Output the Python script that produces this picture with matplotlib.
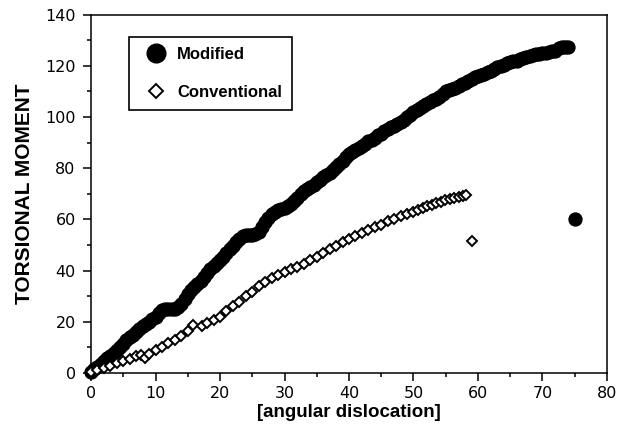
import matplotlib
matplotlib.use("Agg")
import matplotlib.pyplot as plt
from matplotlib.ticker import MultipleLocator

# Modified series
mod_x = [0, 0.5, 1, 1.5, 2, 2.5, 3, 3.5, 4, 4.5, 5, 5.5, 6, 6.5, 7, 7.5, 8, 8.5, 9, 9.5,
         10, 10.5, 11, 11.5, 12, 12.5, 13, 13.5, 14, 14.5, 15, 15.5, 16, 16.5, 17, 17.5,
         18, 18.5, 19, 19.5, 20, 20.5, 21, 21.5, 22, 22.5, 23, 23.5, 24, 24.5, 25, 25.5,
         26, 26.5, 27, 27.5, 28, 28.5, 29, 29.5, 30, 30.5, 31, 31.5, 32, 32.5, 33, 33.5,
         34, 34.5, 35, 35.5, 36, 36.5, 37, 37.5, 38, 38.5, 39, 39.5, 40, 40.5, 41, 41.5,
         42, 42.5, 43, 43.5, 44, 44.5, 45, 45.5, 46, 46.5, 47, 47.5, 48, 48.5, 49, 49.5,
         50, 50.5, 51, 51.5, 52, 52.5, 53, 53.5, 54, 54.5, 55, 55.5, 56, 56.5, 57, 57.5,
         58, 58.5, 59, 59.5, 60, 60.5, 61, 61.5, 62, 62.5, 63, 63.5, 64, 64.5, 65, 65.5,
         66, 66.5, 67, 67.5, 68, 68.5, 69, 69.5, 70, 70.5, 71, 71.5, 72, 72.5, 73, 73.5,
         74, 75]
mod_y = [0.5, 1.5, 2.5, 3.5, 4.5, 5.7, 6.8, 7.9, 9, 10.2, 11.5, 12.8, 14, 15, 16, 17.3, 18.5, 19.3, 20, 21,
         22, 23.3, 24.5, 25, 25, 25, 25, 25.8, 27, 29, 31, 32.3, 33.5, 34.8, 36, 37.5,
         39, 40.5, 42, 43, 44, 45.5, 47, 48.3, 49.5, 51, 52.5, 53.5, 54, 54, 54, 54.3,
         55, 57, 59, 60.5, 62, 63, 63.5, 64, 64.5, 65.2, 66, 67.3, 68.5, 69.8, 71, 71.8,
         72.5, 73.5, 74.5, 75.5, 76.5, 77.2, 78, 79.3, 80.5, 81.8, 83, 84.3, 85.5, 86.2, 87, 87.8,
         88.5, 89.5, 90.5, 91.2, 92, 92.8, 93.5, 94.5, 95.5, 96, 96.5, 97.2, 98, 99, 100, 101,
         102, 102.8, 103.5, 104.2, 105, 105.8, 106.5, 107.2, 108, 109, 110, 110.5, 111, 111.5, 112, 112.8,
         113.5, 114.2, 115, 115.5, 116, 116.5, 117, 117.5, 118, 118.8, 119.5, 120, 120.5, 121, 121.5, 121.8,
         122, 122.5, 123, 123.5, 124, 124.2, 124.5, 124.8, 125, 125.2, 125.5, 125.8, 126, 126.8, 127.5, 127.5,
         127.5, 60]

# Conventional series
conv_x = [0, 1, 2, 3, 4, 5, 6, 7, 7.7, 8.3, 9, 10, 11, 12, 13, 14, 15, 15.8, 17.2, 18,
          19, 20, 21, 22, 23, 24, 25, 26, 27, 28, 29, 30, 31, 32, 33, 34, 35, 36, 37, 38,
          39, 40, 41, 42, 43, 44, 45, 46, 47, 48, 49, 50, 50.7, 51.4, 52.1, 52.8, 53.5, 54.2,
          54.9, 55.6, 56.3, 57, 57.7, 58.2, 59]
conv_y = [0.5, 1.2, 1.8, 2.8, 3.8, 4.6, 5.5, 6.5, 7.2, 5.8, 7.6, 9, 10.3, 11.6, 13, 14.6, 16.5, 18.7, 18.5, 19.5,
          20.6, 22, 24.2, 26, 27.8, 30, 31.8, 33.8, 35.6, 37.2, 38.3, 39.3, 40.5, 41.3, 42.5, 44, 45.5, 47, 48.5, 49.6,
          51, 52.2, 53.4, 54.6, 55.8, 57, 58, 59.2, 60.2, 61.2, 62.2, 63.1, 63.8, 64.5, 65.1, 65.7, 66.3, 66.9,
          67.4, 67.9, 68.4, 68.8, 69.2, 69.4, 51.7]

label_font = "Liberation Sans"

fig = plt.figure(figsize=(6.29, 4.40), dpi=100)
ax = fig.add_axes([0.1447, 0.1523, 0.8203, 0.8143])

ax.plot(mod_x, mod_y, linestyle="none", marker="o", ms=9.3, color="black",
        label="Modified", clip_on=False, zorder=3)
ax.plot(conv_x, conv_y, linestyle="none", marker="D", ms=5, mfc="white", mec="black",
        mew=1.4, label="Conventional", clip_on=False, zorder=4)

ax.set_xlim(0, 80)
ax.set_ylim(0, 140)
ax.xaxis.set_major_locator(MultipleLocator(10))
ax.xaxis.set_minor_locator(MultipleLocator(5))
ax.yaxis.set_major_locator(MultipleLocator(20))
ax.yaxis.set_minor_locator(MultipleLocator(10))
ax.tick_params(which="both", direction="out", width=1.1, top=False, right=False,
               labelsize=11.5)
ax.tick_params(which="major", length=5.5)
ax.tick_params(which="minor", length=3)
ax.tick_params(axis="y", which="major", pad=5.5)
ax.tick_params(axis="x", which="major", pad=4)
for sp in ax.spines.values():
    sp.set_linewidth(1.1)

ax.set_xlabel("[angular dislocation]", family=label_font, weight="bold", fontsize=13.5)
ax.set_ylabel("TORSIONAL MOMENT", family=label_font, weight="bold", fontsize=15)
ax.xaxis.set_label_coords(0.5, -0.11)
ax.yaxis.set_label_coords(-0.128, 0.5)
ax.xaxis.label.set_va("center")
ax.yaxis.label.set_va("center")

leg = ax.legend(loc="upper left", bbox_to_anchor=(0.0736, 0.938), borderaxespad=0,
                numpoints=1, markerscale=1.45, fancybox=False, edgecolor="black",
                framealpha=1, handlelength=2.0, handletextpad=0.3, labelspacing=1.4,
                borderpad=0.6, prop={"family": label_font, "weight": "bold", "size": 12})
leg.get_frame().set_linewidth(1.2)

fig.savefig("out.png", dpi=100)
